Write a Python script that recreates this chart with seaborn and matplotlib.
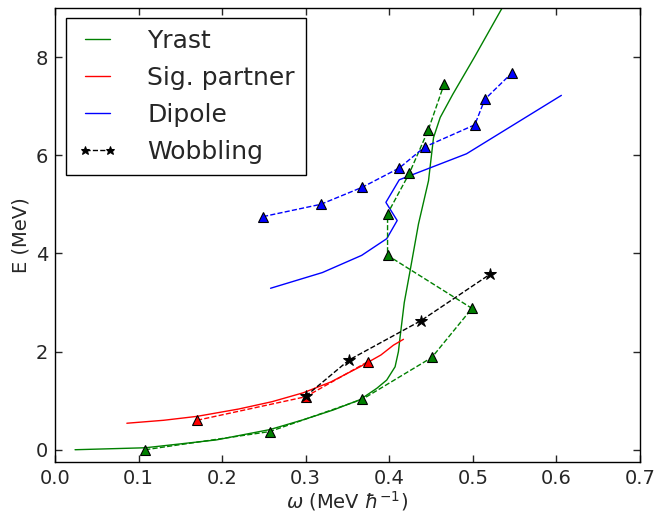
import numpy as np
import pandas as pd
import matplotlib
matplotlib.use("Agg")
import matplotlib.pyplot as plt
import seaborn as sns

# ---- data ----
yrast_w = [0.024, 0.108, 0.193, 0.257, 0.297, 0.333, 0.365, 0.385, 0.397, 0.407, 0.411,
           0.413, 0.418, 0.425, 0.435, 0.447, 0.453, 0.461, 0.476, 0.502, 0.545]
yrast_E = [0.0, 0.04, 0.2, 0.41, 0.61, 0.81, 1.02, 1.25, 1.42, 1.69, 2.0,
           2.3, 3.0, 3.65, 4.6, 5.48, 6.36, 6.77, 7.24, 8.0, 9.3]

sig_w = [0.086, 0.13, 0.17, 0.22, 0.26, 0.297, 0.33, 0.365, 0.39, 0.405, 0.417]
sig_E = [0.54, 0.60, 0.68, 0.83, 0.98, 1.16, 1.38, 1.69, 1.93, 2.13, 2.25]

dip_w = [0.258, 0.320, 0.367, 0.397, 0.4095, 0.396, 0.412, 0.4925, 0.606]
dip_E = [3.29, 3.61, 3.96, 4.30, 4.67, 5.04, 5.50, 6.03, 7.22]

wob_w = [0.300, 0.352, 0.438, 0.521]
wob_E = [1.09, 1.83, 2.63, 3.58]

exp_yr_w = [0.108, 0.257, 0.368, 0.451, 0.499, 0.398, 0.398, 0.424, 0.4466, 0.4657]
exp_yr_E = [0.0, 0.37, 1.03, 1.88, 2.88, 3.96, 4.81, 5.63, 6.51, 7.45]

exp_sig_w = [0.170, 0.300, 0.374]
exp_sig_E = [0.60, 1.08, 1.79]

exp_dip_w = [0.249, 0.318, 0.368, 0.412, 0.4426, 0.5024, 0.5144, 0.547]
exp_dip_E = [4.75, 5.00, 5.35, 5.74, 6.17, 6.62, 7.14, 7.68]

# ---- style ----
sns.set_style("ticks", {"xtick.direction": "in", "ytick.direction": "in",
                        "axes.edgecolor": "black"})
plt.rcParams["font.family"] = ["DejaVu Sans"]
plt.rcParams.update({
    "xtick.top": True, "ytick.right": True,
    "xtick.major.size": 5, "ytick.major.size": 5,
    "xtick.major.width": 1, "ytick.major.width": 1,
    "axes.linewidth": 1.0,
    "xtick.labelsize": 14, "ytick.labelsize": 14,
    "xtick.major.pad": 5, "ytick.major.pad": 5,
    "axes.labelsize": 14,
    "mathtext.fontset": "dejavusans",
})

G = (0, 0.5, 0)
R = (1, 0, 0)
B = (0, 0, 1)

fig = plt.figure(figsize=(6.57, 5.13), dpi=100)
ax = fig.add_axes([0.0837, 0.0994, 0.8903, 0.8850])

def df(w, e):
    return pd.DataFrame({"w": w, "E": e})

common = dict(x="w", y="E", sort=False, estimator=None, ax=ax)

# theory lines
sns.lineplot(data=df(yrast_w, yrast_E), color=G, lw=1.0, label="Yrast", **common)
sns.lineplot(data=df(sig_w, sig_E), color=R, lw=1.0, label="Sig. partner", **common)
sns.lineplot(data=df(dip_w, dip_E), color=B, lw=1.0, label="Dipole", **common)

# experimental dashed with triangles
mk = dict(marker="^", markersize=7, markeredgecolor="k", markeredgewidth=0.8,
          linestyle="--", lw=1.0, dashes=(5.5, 5))
sns.lineplot(data=df(exp_yr_w, exp_yr_E), color=G, markerfacecolor=G, **mk, **common)
sns.lineplot(data=df(exp_sig_w, exp_sig_E), color=R, markerfacecolor=R, **mk, **common)
sns.lineplot(data=df(exp_dip_w, exp_dip_E), color=B, markerfacecolor=B, **mk, **common)

# wobbling
sns.lineplot(data=df(wob_w, wob_E), color="k", marker="*", markersize=9,
             markeredgecolor="k", markerfacecolor="k", linestyle="--", dashes=(5.5, 5),
             lw=1.0, label="Wobbling", **common)

ax.set_xlim(0.0, 0.7)
ax.set_ylim(-0.25, 9.0)
ax.set_xticks(np.arange(0, 0.71, 0.1))
ax.set_xticklabels([f"{v:.1f}" for v in np.arange(0, 0.71, 0.1)])
ax.set_yticks([0, 2, 4, 6, 8])
ax.set_xlabel(r"$\omega$ (MeV $\hbar^{-1}$)", labelpad=1)
ax.set_ylabel("E (MeV)", labelpad=4)

leg = ax.legend(loc="upper left", fontsize=18, frameon=True, fancybox=False,
                edgecolor="k", framealpha=1, numpoints=2, handlelength=1.6,
                borderpad=0.45, labelspacing=0.52, handletextpad=1.2,
                markerscale=0.7, borderaxespad=0,
                bbox_to_anchor=(0.0188, 0.978))
leg.get_frame().set_linewidth(1.0)

fig.savefig("out.png", dpi=100)
